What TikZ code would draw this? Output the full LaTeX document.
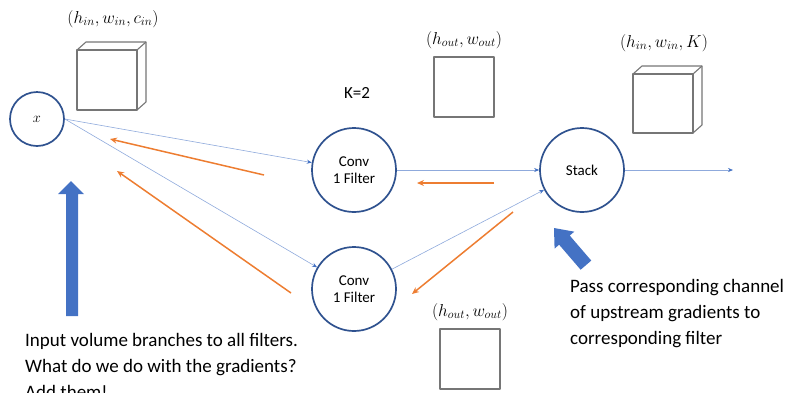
\documentclass[tikz,border=0pt]{standalone}
\usepackage{fontspec}
\setmainfont{Carlito}
\usetikzlibrary{arrows.meta}
\definecolor{ringblue}{HTML}{2F528F}
\definecolor{linkblue}{HTML}{8FAADC}
\definecolor{tipblue}{HTML}{4472C4}
\definecolor{gradorange}{HTML}{ED7D31}
\definecolor{boxgray}{HTML}{767676}
\begin{document}
\begin{tikzpicture}[x=1pt,y=-1pt,
  opnode/.style={circle, draw=ringblue, line width=1.7pt, minimum size=84pt,
    inner sep=0pt, align=center, font=\fontsize{15}{17}\selectfont},
  flow/.style={draw=linkblue, line width=0.6pt,
    -{Stealth[length=5pt,width=4pt,color=tipblue]}},
  gradflow/.style={draw=gradorange, line width=1.5pt,
    -{Stealth[length=7pt,width=6pt]}},
  volume/.style={draw=boxgray, line width=1.1pt, fill=white, line join=round},
  dimlabel/.style={font=\fontsize{16.5}{18}\selectfont},
  bigarrow/.style={fill=tipblue, draw=none},
  note/.style={font=\fontsize{19}{26}\selectfont, align=left, anchor=north west, inner sep=0pt}
]
\useasboundingbox (0,0) rectangle (804,392);

% operation nodes
\node[opnode, minimum size=54pt, font=\fontsize{15}{17}\selectfont] (x) at (37,119) {$x$};
\node[opnode] (conv1) at (354,170) {Conv\\1 Filter};
\node[opnode] (conv2) at (354,289) {Conv\\1 Filter};
\node[opnode] (stack) at (582,170) {Stack};
\coordinate (out) at (733,170);

% forward connections
\draw[flow] (x.east) -- (conv1);
\draw[flow] (x.east) -- (conv2);
\draw[flow] (conv1) -- (stack);
\draw[flow] (conv2) -- (stack);
\draw[flow] (stack) -- (out);

% upstream gradients
\coordinate (g1a) at (264,175); \coordinate (g1b) at (110,139);
\coordinate (g2a) at (291,293); \coordinate (g2b) at (117,171);
\coordinate (g3a) at (494,183); \coordinate (g3b) at (417,183);
\coordinate (g4a) at (513,212); \coordinate (g4b) at (412,294);
\draw[gradflow] (g1a) -- (g1b);
\draw[gradflow] (g2a) -- (g2b);
\draw[gradflow] (g3a) -- (g3b);
\draw[gradflow] (g4a) -- (g4b);

% input volume
\draw[volume] (77,50) -- (86,42) -- (146,42) -- (146,102) -- (137,110);
\draw[volume] (137,50) -- (146,42);
\draw[volume] (77,50) rectangle (137,110);
\node[dimlabel] (inlab) at (113,19) {$(h_{in},w_{in},c_{in})$};

% stacked output volume
\draw[volume] (633,74) -- (642,66) -- (702,66) -- (702,125) -- (693,133);
\draw[volume] (693,74) -- (702,66);
\draw[volume] (633,74) rectangle (693,133);
\node[dimlabel] (stacklab) at (664,43) {$(h_{in},w_{in},K)$};

% per-filter outputs
\draw[volume] (434,57) rectangle (494,117);
\node[dimlabel] (outlab1) at (464,40) {$(h_{out},w_{out})$};
\draw[volume] (440,329) rectangle (500,389);
\node[dimlabel] (outlab2) at (470,312) {$(h_{out},w_{out})$};

\node[font=\fontsize{17}{19}\selectfont] (k) at (357,93) {K=2};

% highlight arrows
\fill[bigarrow] (66,316) -- (66,194) -- (58,194) -- (71,181) -- (84,194) -- (78,194) -- (78,316) -- cycle;
\begin{scope}[shift={(554,228)}, rotate=130.7]
  \fill[bigarrow] (0,0) -- (-16,13) -- (-16,7) -- (-49,7) -- (-49,-7) -- (-16,-7) -- (-16,-13) -- cycle;
\end{scope}

% notes
\node[note] (leftnote) at (25,333) {Input volume branches to all filters.\\What do we do with the gradients?\\Add them!};
\node[note] (rightnote) at (570,279) {Pass corresponding channel\\of upstream gradients to\\corresponding filter};
\end{tikzpicture}
\end{document}
